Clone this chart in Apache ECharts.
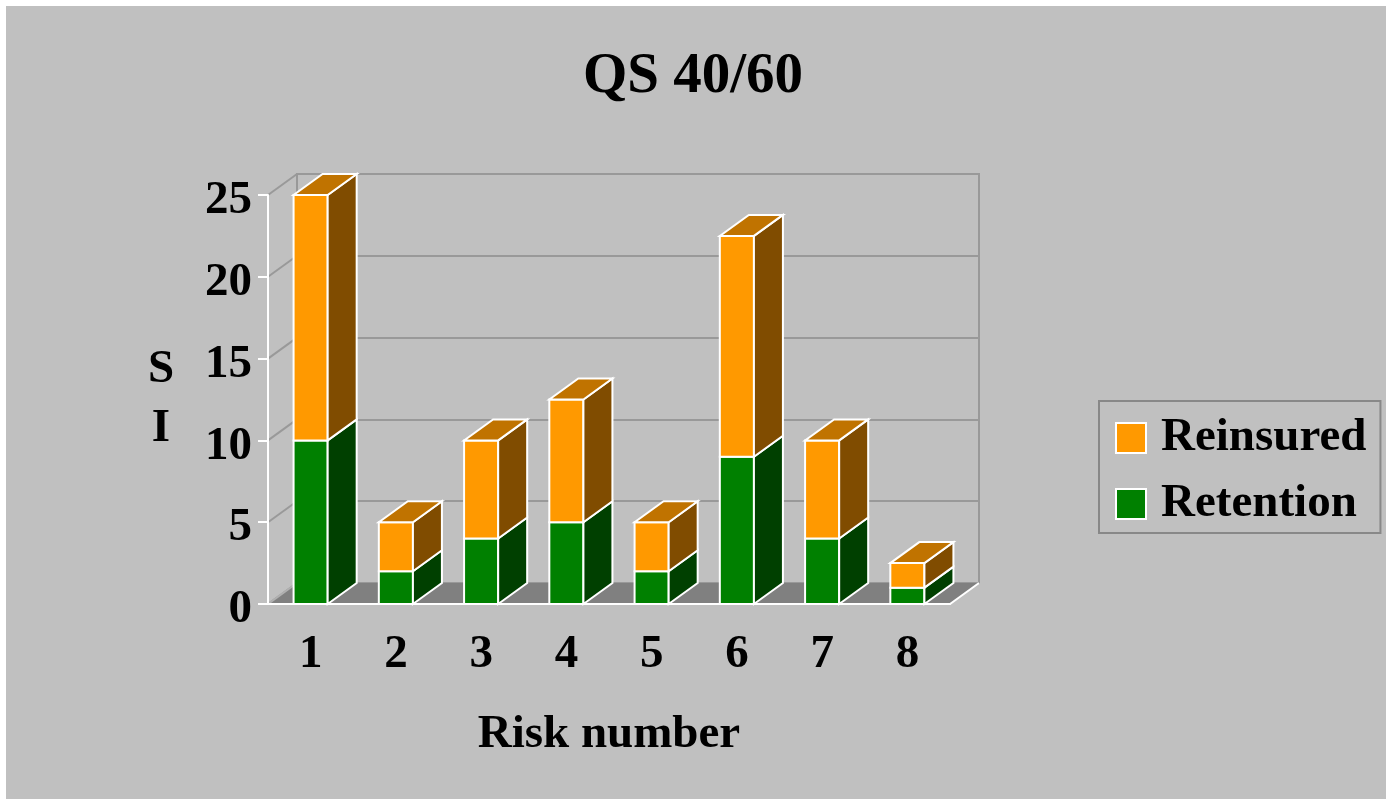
<!DOCTYPE html>
<html>
<head>
<meta charset="utf-8">
<title>QS 40/60</title>
<script src="https://cdn.jsdelivr.net/npm/echarts@6/dist/echarts.min.js"></script>
<style>
  html, body { margin: 0; padding: 0; background: #fff; }
  #chart { width: 1386px; height: 802px; }
</style>
</head>
<body>
<div id="chart"></div>
<script>
// data
const categories = ['1', '2', '3', '4', '5', '6', '7', '8']
const retention = [10, 2, 4, 5, 2, 9, 4, 1]
const reinsured = [15, 3, 6, 7.5, 3, 13.5, 6, 1.5]
const yTicks = [0, 5, 10, 15, 20, 25]

// 3d look
const DX = 29
const DY = -21
const BAR_RATIO = 0.4
const FONT = '"Times New Roman", "Liberation Serif", serif'

const front = { left: 268, right: 436, top: 195, bottom: 198 }
const back = {
  left: front.left + DX,
  right: front.right - DX,
  top: front.top + DY,
  bottom: front.bottom - DY
}

function barItem (faces) {
  return function (params, api) {
    const cat = api.value(0)
    const base = api.coord([cat, api.value(1)])
    const top = api.coord([cat, api.value(2)])
    const w = api.size([1, 0])[0] * BAR_RATIO
    const x0 = base[0] - w / 2
    const x1 = base[0] + w / 2
    const yb = base[1]
    const yt = top[1]
    const line = { stroke: '#fff', lineWidth: 2 }
    const children = [
      { type: 'polygon', shape: { points: [[x0, yb], [x1, yb], [x1, yt], [x0, yt]] }, style: Object.assign({ fill: faces.front }, line) },
      { type: 'polygon', shape: { points: [[x1, yb], [x1 + DX, yb + DY], [x1 + DX, yt + DY], [x1, yt]] }, style: Object.assign({ fill: faces.side }, line) }
    ]
    if (faces.top) {
      children.push({ type: 'polygon', shape: { points: [[x0, yt], [x1, yt], [x1 + DX, yt + DY], [x0 + DX, yt + DY]] }, style: Object.assign({ fill: faces.top }, line) })
    }
    return { type: 'group', children: children }
  }
}

function floorItem (params, api) {
  const band = api.size([1, 0])[0]
  const l = api.coord([0, 0])
  const r = api.coord([categories.length - 1, 0])
  const xl = l[0] - band / 2
  const xr = r[0] + band / 2
  const y = l[1]
  return {
    type: 'group',
    children: [
      { type: 'polygon', shape: { points: [[xl, y], [xr, y], [xr + DX, y + DY], [xl + DX, y + DY]] }, style: { fill: '#808080' } },
      { type: 'polyline', shape: { points: [[xl, y], [xr, y], [xr + DX, y + DY]] }, style: { stroke: '#fff', lineWidth: 2, fill: null } },
      { type: 'line', shape: { x1: xl, y1: y, x2: xl + DX, y2: y + DY }, style: { stroke: '#b0b0b0', lineWidth: 2 } }
    ]
  }
}

function sideWallItem (params, api) {
  const band = api.size([1, 0])[0]
  const p = api.coord([0, api.value(1)])
  const x = p[0] - band / 2
  return { type: 'line', shape: { x1: x, y1: p[1], x2: x + DX, y2: p[1] + DY }, style: { stroke: '#999', lineWidth: 2 } }
}

const labelFont = { fontFamily: FONT, fontSize: 47, fontWeight: 'bold', color: '#000' }

const chart = echarts.init(document.getElementById('chart'))
chart.setOption({
  animation: false,
  backgroundColor: '#fff',
  graphic: {
    elements: [
      { type: 'rect', z: -100, shape: { x: 6, y: 6, width: 1380, height: 793 }, style: { fill: '#c0c0c0' } }
    ]
  },
  title: {
    text: 'QS 40/60',
    left: 'center',
    top: 44,
    textStyle: { fontFamily: FONT, fontSize: 57, fontWeight: 'bold', color: '#000' }
  },
  legend: {
    data: ['Reinsured', 'Retention'],
    orient: 'vertical',
    left: 1099,
    top: 401,
    padding: [12, 14, 4, 16],
    itemGap: 16,
    itemWidth: 30,
    itemHeight: 30,
    icon: 'rect',
    borderColor: '#888',
    borderWidth: 2,
    itemStyle: { borderColor: '#fff', borderWidth: 2 },
    textStyle: Object.assign({ lineHeight: 50, padding: [0, 0, 0, 10] }, labelFont)
  },
  grid: [
    Object.assign({}, front),
    Object.assign({ show: true, borderColor: '#999', borderWidth: 2, backgroundColor: 'transparent' }, back)
  ],
  xAxis: [
    {
      type: 'category',
      data: categories,
      gridIndex: 0,
      z: 5,
      name: 'Risk number',
      nameLocation: 'middle',
      nameGap: 131,
      nameTextStyle: Object.assign({ verticalAlign: 'middle' }, labelFont),
      axisLine: { lineStyle: { color: '#fff', width: 2 } },
      axisTick: { length: 9, lineStyle: { color: '#fff', width: 2 } },
      axisLabel: Object.assign({ margin: 51, verticalAlign: 'middle' }, labelFont)
    },
    { type: 'category', data: categories, gridIndex: 1, show: false }
  ],
  yAxis: [
    {
      type: 'value',
      gridIndex: 0,
      min: 0,
      max: 25,
      interval: 5,
      z: 5,
      name: 'S\nI',
      nameLocation: 'middle',
      nameRotate: 0,
      nameGap: 107,
      nameTextStyle: Object.assign({ align: 'center', verticalAlign: 'middle', lineHeight: 59 }, labelFont),
      axisLine: { show: true, lineStyle: { color: '#fff', width: 2 } },
      axisTick: { show: true, length: 10, lineStyle: { color: '#fff', width: 2 } },
      axisLabel: {
        margin: 16,
        formatter: '{n|{value}}',
        rich: { n: Object.assign({ padding: [12, 0, 0, 0] }, labelFont) }
      },
      splitLine: { show: false }
    },
    {
      type: 'value',
      gridIndex: 1,
      min: 0,
      max: 25,
      interval: 5,
      axisLine: { show: false },
      axisTick: { show: false },
      axisLabel: { show: false },
      splitLine: { lineStyle: { color: '#999', width: 2 } }
    }
  ],
  series: [
    {
      name: 'sideWall',
      type: 'custom',
      silent: true,
      z: 1,
      renderItem: sideWallItem,
      data: yTicks.map(v => [0, v])
    },
    {
      name: 'floor',
      type: 'custom',
      silent: true,
      z: 1,
      renderItem: floorItem,
      data: [[0, 0]]
    },
    {
      name: 'Retention',
      type: 'custom',
      z: 2,
      itemStyle: { color: '#008000' },
      renderItem: barItem({ front: '#008000', side: '#004000', top: null }),
      encode: { x: 0, y: [1, 2] },
      data: retention.map((v, i) => [i, 0, v])
    },
    {
      name: 'Reinsured',
      type: 'custom',
      z: 3,
      itemStyle: { color: '#ff9900' },
      renderItem: barItem({ front: '#ff9900', side: '#804c00', top: '#c07300' }),
      encode: { x: 0, y: [1, 2] },
      data: reinsured.map((v, i) => [i, retention[i], retention[i] + v])
    }
  ]
})
</script>
</body>
</html>
